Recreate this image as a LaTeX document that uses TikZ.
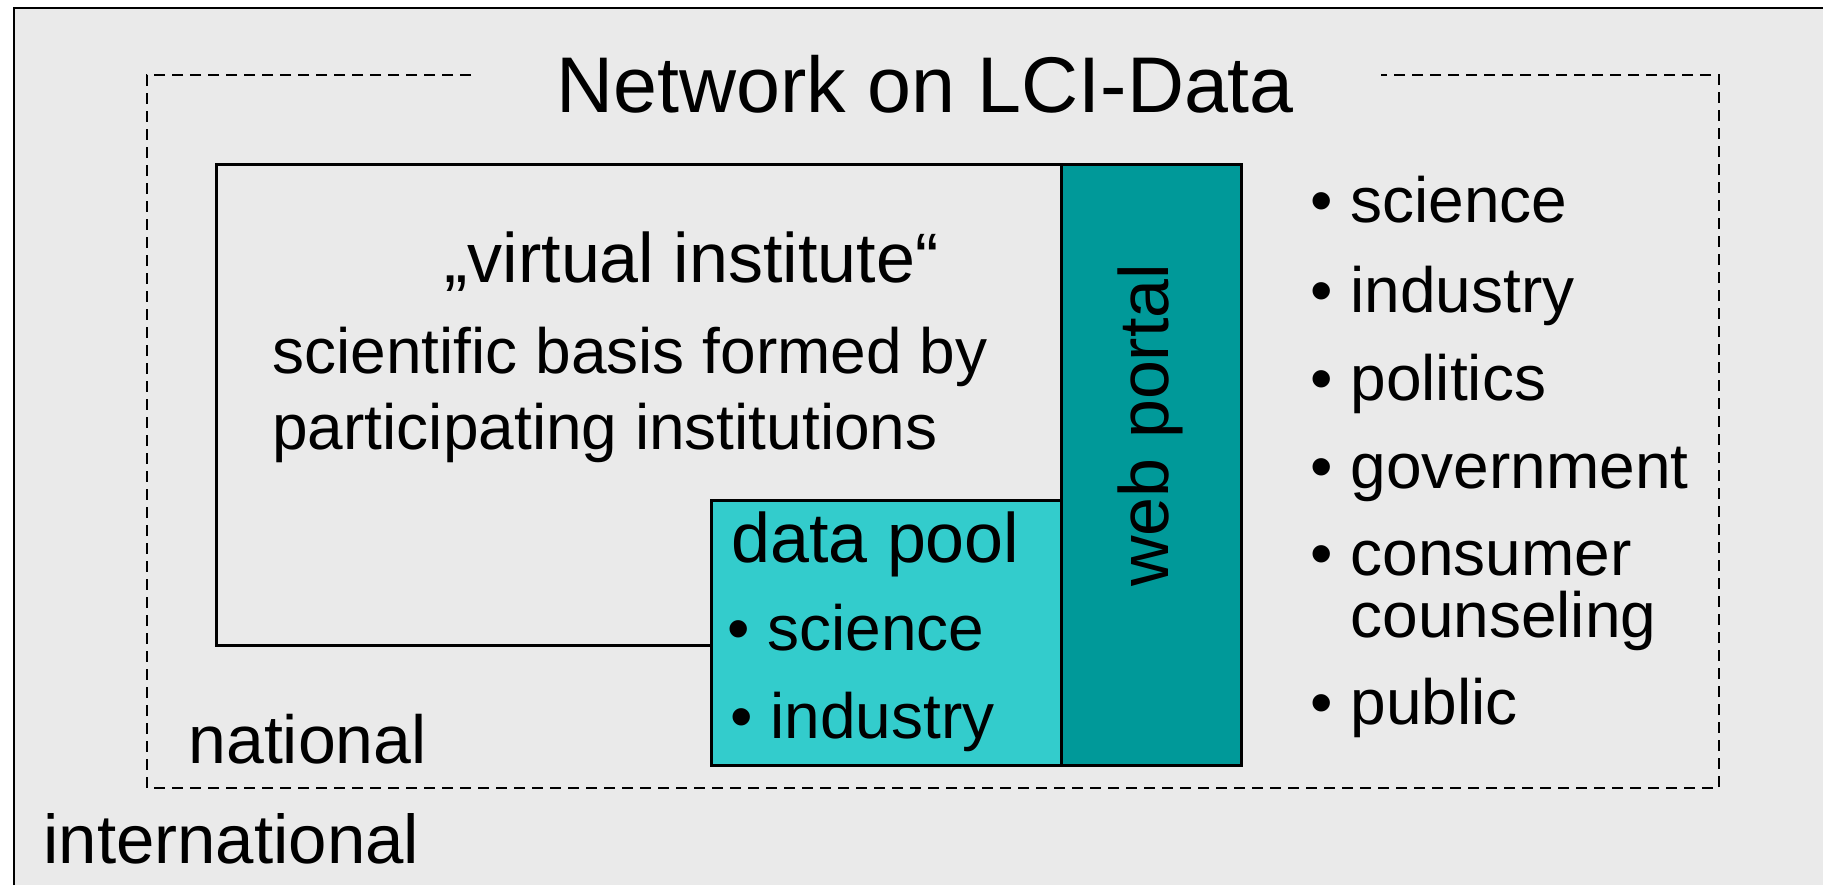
\documentclass[tikz,border=0pt]{standalone}
\usepackage{fontspec}
\setmainfont{Liberation Sans}
\definecolor{bggrey}{HTML}{EAEAEA}
\definecolor{tealdark}{HTML}{009999}
\definecolor{teallight}{HTML}{33CCCC}
\begin{document}
\begin{tikzpicture}[x=0.5pt,y=-0.5pt,
  txt/.style={anchor=base west, inner sep=0pt, font=\fontsize{32}{38}\selectfont},
  bigtxt/.style={txt, font=\fontsize{35}{42}\selectfont},
  boxstyle/.style={draw=black, line width=1.3pt, anchor=north west, inner sep=0pt}]
\useasboundingbox (0,0) rectangle (1823,885);
\fill[white] (0,0) rectangle (1823,885);
\fill[bggrey] (14,8) rectangle (1823,885);
\draw[line width=1.3pt] (14,885) -- (14,8) -- (1823,8);
\draw[line width=1pt, dash pattern=on 5.5pt off 3.5pt]
  (471,75) -- (147,75) -- (147,788) -- (1719,788) -- (1719,75) -- (1381,75);
% boxes
\node[boxstyle, fill=bggrey, minimum width=422.5pt, minimum height=240.5pt] (vi) at (215,163) {};
\node[boxstyle, fill=teallight, minimum width=175pt, minimum height=132.5pt] (dp) at (710,499) {};
\node[boxstyle, fill=tealdark, minimum width=90pt, minimum height=300.5pt] (wp) at (1060,163) {};
% title
\node[txt, font=\fontsize{39.5}{46}\selectfont] (title) at (556,112) {Network on LCI-Data};
% virtual institute
\node[bigtxt] (vit) at (444,282) {„virtual institute“};
\node[txt] (sb1) at (272,373) {scientific basis formed by};
\node[txt] (sb2) at (272,449) {participating institutions};
% data pool
\node[bigtxt] (dpt) at (731,562) {data pool};
\node[txt] (dp1) at (727,650) {• science};
\node[txt] (dp2) at (730,738) {• industry};
% web portal
\node[bigtxt, rotate=90] (wpt) at (1168,587) {web portal};
% right list
\node[txt] (r1) at (1310,222) {• science};
\node[txt] (r2) at (1310,312) {• industry};
\node[txt] (r3) at (1310,400) {• politics};
\node[txt] (r4) at (1310,488) {• government};
\node[txt] (r5) at (1310,575) {• consumer};
\node[txt] (r5b) at (1350,637) {counseling};
\node[txt] (r6) at (1310,724) {• public};
% levels
\node[txt, font=\fontsize{34}{40}\selectfont] (nat) at (188,763) {national};
\node[txt, font=\fontsize{34.5}{41}\selectfont] (intl) at (43,863) {international};
\end{tikzpicture}
\end{document}
